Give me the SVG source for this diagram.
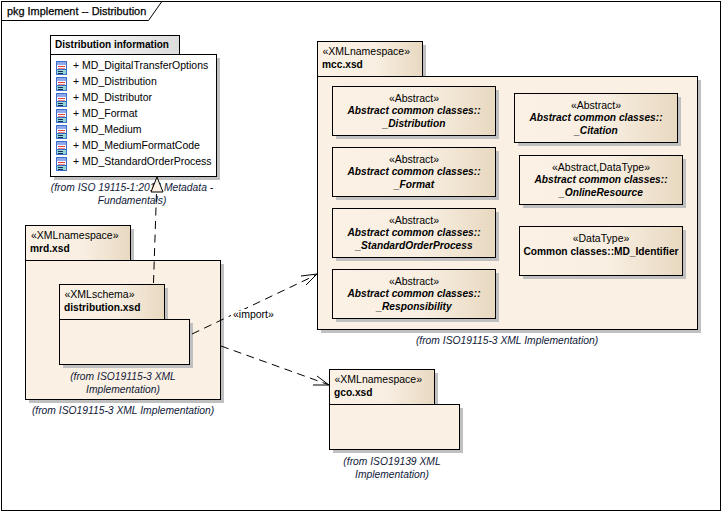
<svg xmlns="http://www.w3.org/2000/svg" width="722" height="511" viewBox="0 0 722 511">
<defs>
<linearGradient id="fill" x1="0" y1="0" x2="1" y2="0"><stop offset="0" stop-color="#fbf2e5"/><stop offset="0.55" stop-color="#f8efe2"/><stop offset="1" stop-color="#e8d8c0"/></linearGradient>
<linearGradient id="head" x1="0" y1="0" x2="1" y2="0"><stop offset="0" stop-color="#ffffff"/><stop offset="1" stop-color="#dcdcdc"/></linearGradient>
<g id="ico">
<rect x="0.5" y="0.5" width="10" height="13" fill="#fff" stroke="#3a6fd0"/>
<rect x="1" y="1" width="9" height="3" fill="#8fa8ec"/>
<path d="M2 5.5H9" stroke="#e04040"/><path d="M2 7.5H9" stroke="#e88080"/>
<rect x="1" y="9" width="9" height="4" fill="#8fd8d0"/>
<path d="M0 8.5H11" stroke="#3a6fd0"/>
<path d="M2 10.5H7M2 12.5H7" stroke="#1a2a60"/>
</g>
</defs>
<style>
text{font-family:"Liberation Sans",Arial,sans-serif;font-size:10.5px;fill:#000}
.b{font-weight:bold;font-size:10.2px}
.bi{font-weight:bold;font-style:italic;text-anchor:middle;font-size:10.2px}
.m{text-anchor:middle}
.from{font-style:italic;fill:#101838;text-anchor:middle;font-size:10.3px}
.box{fill:url(#fill);stroke:#000}
.flat{fill:#faf1e4;stroke:#000}
.sh{fill:#c0c0c0}
.dash{fill:none;stroke:#000;stroke-dasharray:8 5.5}
.arr{fill:none;stroke:#000}
</style>
<rect width="722" height="511" fill="#fff"/>

<g id="frame">
<rect x="1.5" y="1.5" width="719" height="509" fill="#fff" stroke="#000"/>
<path d="M1.5 20.5H148.5L161.5 2" fill="#fff" stroke="#000"/>
<text x="7" y="15" style="font-size:10.9px;stroke:#000;stroke-width:.25">pkg Implement -- Distribution</text>
</g>

<g id="distribution-information">
<rect class="sh" x="54" y="58" width="166" height="122"/>
<rect x="50.5" y="35.5" width="129" height="19" fill="url(#head)" stroke="#000"/>
<rect x="50.5" y="54.5" width="166" height="122" fill="#fff" stroke="#000"/>
<text class="b" x="55" y="48" style="font-size:10px">Distribution information</text>
<use href="#ico" x="56" y="61"/><text x="73" y="69">+ MD_DigitalTransferOptions</text>
<use href="#ico" x="56" y="77"/><text x="73" y="85">+ MD_Distribution</text>
<use href="#ico" x="56" y="93"/><text x="73" y="101">+ MD_Distributor</text>
<use href="#ico" x="56" y="109"/><text x="73" y="117">+ MD_Format</text>
<use href="#ico" x="56" y="125"/><text x="73" y="133">+ MD_Medium</text>
<use href="#ico" x="56" y="141"/><text x="73" y="149">+ MD_MediumFormatCode</text>
<use href="#ico" x="56" y="157"/><text x="73" y="165">+ MD_StandardOrderProcess</text>
<text class="from" x="132" y="191">(from ISO 19115-1:2014 Metadata -</text>
<text class="from" x="132" y="204">Fundamentals)</text>
</g>

<g id="mrd">
<rect class="sh" x="29" y="229" width="105" height="35"/>
<rect class="sh" x="29" y="264" width="195" height="139"/>
<rect class="box" x="25.5" y="225.5" width="105" height="35"/>
<rect class="flat" x="25.5" y="260.5" width="195" height="139"/>
<text x="31" y="239">«XMLnamespace»</text>
<text class="b" x="30" y="252">mrd.xsd</text>
<text class="from" x="123" y="414">(from ISO19115-3 XML Implementation)</text>
</g>

<g id="distribution-xsd">
<rect class="sh" x="63" y="288" width="105" height="35"/>
<rect class="sh" x="63" y="323" width="130" height="45"/>
<rect class="box" x="59.5" y="284.5" width="105" height="35"/>
<rect class="flat" x="59.5" y="319.5" width="130" height="45"/>
<text x="64.5" y="298">«XMLschema»</text>
<text class="b" x="64" y="311">distribution.xsd</text>
<text class="from" x="123" y="380">(from ISO19115-3 XML</text>
<text class="from" x="123" y="393">Implementation)</text>
</g>

<g id="mcc">
<rect class="sh" x="321" y="45" width="105" height="35"/>
<rect class="sh" x="321" y="80" width="380" height="253"/>
<rect class="box" x="317.5" y="41.5" width="105" height="35"/>
<rect class="flat" x="317.5" y="76.5" width="380" height="253"/>
<text x="322.5" y="55">«XMLnamespace»</text>
<text class="b" x="322" y="68">mcc.xsd</text>
<text class="from" x="507" y="344">(from ISO19115-3 XML Implementation)</text>
</g>

<g id="distribution-class">
<rect class="sh" x="336" y="90" width="163" height="49"/>
<rect class="box" x="332.5" y="86.5" width="163" height="49"/>
<text class="m" x="414" y="102">«Abstract»</text>
<text class="bi" x="414" y="114">Abstract common classes::</text>
<text class="bi" x="414" y="127">_Distribution</text>
</g>
<g id="format-class">
<rect class="sh" x="336" y="151" width="163" height="49"/>
<rect class="box" x="332.5" y="147.5" width="163" height="49"/>
<text class="m" x="414" y="163">«Abstract»</text>
<text class="bi" x="414" y="175">Abstract common classes::</text>
<text class="bi" x="414" y="188">_Format</text>
</g>
<g id="standard-order-process-class">
<rect class="sh" x="336" y="212" width="163" height="49"/>
<rect class="box" x="332.5" y="208.5" width="163" height="49"/>
<text class="m" x="414" y="224">«Abstract»</text>
<text class="bi" x="414" y="236">Abstract common classes::</text>
<text class="bi" x="414" y="249">_StandardOrderProcess</text>
</g>
<g id="responsibility-class">
<rect class="sh" x="336" y="273" width="163" height="49"/>
<rect class="box" x="332.5" y="269.5" width="163" height="49"/>
<text class="m" x="414" y="285">«Abstract»</text>
<text class="bi" x="414" y="297">Abstract common classes::</text>
<text class="bi" x="414" y="310">_Responsibility</text>
</g>
<g id="citation-class">
<rect class="sh" x="518" y="97" width="163" height="49"/>
<rect class="box" x="514.5" y="93.5" width="163" height="49"/>
<text class="m" x="596" y="109">«Abstract»</text>
<text class="bi" x="596" y="121">Abstract common classes::</text>
<text class="bi" x="596" y="134">_Citation</text>
</g>
<g id="online-resource-class">
<rect class="sh" x="523" y="159" width="163" height="49"/>
<rect class="box" x="519.5" y="155.5" width="163" height="49"/>
<text class="m" x="601" y="171">«Abstract,DataType»</text>
<text class="bi" x="601" y="183">Abstract common classes::</text>
<text class="bi" x="601" y="196">_OnlineResource</text>
</g>
<g id="md-identifier-class">
<rect class="sh" x="523" y="230" width="163" height="49"/>
<rect class="box" x="519.5" y="226.5" width="163" height="49"/>
<text class="m" x="601" y="242">«DataType»</text>
<text class="m b" x="601" y="255">Common classes::MD_Identifier</text>
</g>

<g id="gco">
<rect class="sh" x="333" y="373" width="105" height="35"/>
<rect class="sh" x="333" y="408" width="130" height="45"/>
<rect class="box" x="329.5" y="369.5" width="105" height="35"/>
<rect class="flat" x="329.5" y="404.5" width="130" height="45"/>
<text x="334.5" y="383">«XMLnamespace»</text>
<text class="b" x="334" y="396">gco.xsd</text>
<text class="from" x="392" y="465">(from ISO19139 XML</text>
<text class="from" x="392" y="478">Implementation)</text>
</g>

<g id="connectors">
<path class="dash" d="M153.5 283L156.5 192"/>
<path d="M157 177L151 192H163Z" fill="#faf1e4" stroke="#000"/>
<path class="dash" d="M192 334L316 275"/>
<path class="arr" d="M301 276L317 274L306 285"/>
<rect x="231" y="309" width="45" height="13" fill="#fff"/>
<text x="233" y="318">«import»</text>
<path class="dash" d="M221 346L328 384.5"/>
<path class="arr" d="M317 376L329 385H313"/>
</g>
</svg>
